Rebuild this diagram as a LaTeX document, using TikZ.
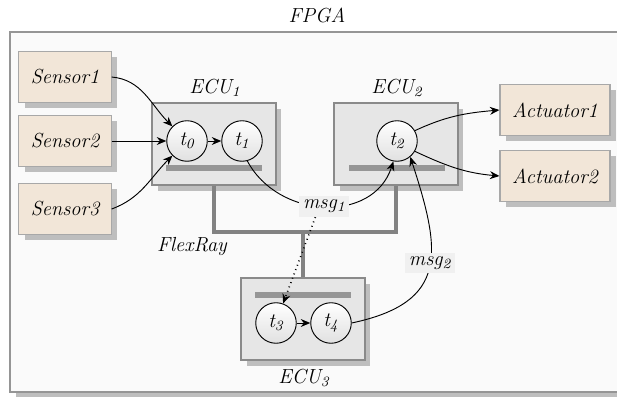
\documentclass[tikz,border=0pt]{standalone}
\usetikzlibrary{arrows.meta,shadows}
\definecolor{sensF}{HTML}{F2E6D8}
\definecolor{sensD}{HTML}{A8A8A8}
\definecolor{ecuF}{HTML}{E6E6E6}
\definecolor{ecuD}{HTML}{8A8A8A}
\definecolor{fpgaF}{HTML}{FAFAFA}
\definecolor{fpgaD}{HTML}{959595}
\definecolor{shadC}{HTML}{BEBEBE}
\definecolor{barC}{HTML}{969696}
\definecolor{busC}{HTML}{828282}
\definecolor{msgF}{HTML}{F0F0F0}
\newcommand\itf{\fontsize{11}{13}\selectfont\itshape}
\tikzset{
  shad/.style={drop shadow={shadow xshift=0.11cm, shadow yshift=-0.11cm, fill=shadC, opacity=1}},
  fpgabox/.style={draw=fpgaD, fill=fpgaF, line width=0.8pt, minimum width=11.67cm, minimum height=6.84cm, shad},
  sensbox/.style={draw=sensD, fill=sensF, line width=0.6pt, minimum width=1.75cm, minimum height=0.97cm,
                  font=\itf, shad},
  actbox/.style={sensbox, minimum width=2.09cm},
  ecubox/.style={draw=ecuD, fill=ecuF, line width=1pt, minimum width=2.34cm, minimum height=1.56cm, shad},
  task/.style={circle, draw=black, line width=0.5pt, top color=white, bottom color=black!12,
               minimum size=0.77cm, inner sep=0pt, font=\itf},
  bar/.style={fill=barC, minimum width=1.81cm, minimum height=0.13cm, inner sep=0pt},
  bus/.style={draw=busC, line width=1.8pt},
  arr/.style={-{Stealth[length=1.8mm,width=1.5mm]}, line width=0.5pt},
  msg/.style={fill=msgF, font=\itf, inner sep=2pt},
  lab/.style={font=\itf},
}

\begin{document}
\begin{tikzpicture}[x=0.019cm, y=-0.019cm]
\useasboundingbox (0,0) rectangle (617,397);
\node[fpgabox] (fpga) at (317,212) {};
\node[lab] (fpgalab) at (317,15) {FPGA};
% sensors and actuators
\node[sensbox] (s1) at (65,77) {Sensor1};
\node[sensbox] (s2) at (65,141) {Sensor2};
\node[sensbox] (s3) at (65,209) {Sensor3};
\node[actbox] (act1) at (555,110) {Actuator1};
\node[actbox] (act2) at (555,176) {Actuator2};
% bus
\coordinate (busL) at (0,232);
\node[lab] (flexray) at (192,247) {FlexRay};
% ECUs
\node[ecubox] (ecu1) at (214,144) {};
\node[ecubox] (ecu2) at (396,144) {};
\node[ecubox] (ecu3) at (303,319) {};
\draw[bus] (ecu1.south) -- (ecu1.south |- busL) -| (ecu2.south);
\draw[bus] (ecu3.north) -- (ecu3.north |- busL);
\node[lab] (ecu1lab) at (215,88) {ECU\textsubscript{1}};
\node[lab] (ecu2lab) at (397,88) {ECU\textsubscript{2}};
\node[lab] (ecu3lab) at (304,378) {ECU\textsubscript{3}};
\node[bar] (bar1) at (214,168) {};
\node[bar] (bar2) at (397,168) {};
\node[bar] (bar3) at (303,295) {};
% tasks
\node[task] (t0) at (187,141) {t\textsubscript{0}};
\node[task] (t1) at (242,141) {t\textsubscript{1}};
\node[task] (t2) at (397,141) {t\textsubscript{2}};
\node[task] (t3) at (276,323) {t\textsubscript{3}};
\node[task] (t4) at (331,323) {t\textsubscript{4}};
% edges
\draw[arr] (s1.east) to[out=-5,in=135] (t0.135);
\draw[arr] (s2.east) -- (t0.west);
\draw[arr] (s3.east) to[out=20,in=-135] (t0.-135);
\draw[arr] (t0) -- (t1);
\draw[arr] (t3) -- (t4);
\draw[arr] (t2.30) to[out=25,in=185] (act1.west);
\draw[arr] (t2.-30) to[out=-25,in=175] (act2.west);
\draw[arr] (t1.-75) to[out=-62,in=-108, looseness=1.15] node[msg, pos=0.5] (msg1) {msg\textsubscript{1}} (t2.-100);
\draw[arr, dotted, line width=0.9pt] ([xshift=-0.17cm]msg1.south) -- (t3.70);
\draw[arr] (t4.east) to[out=12,in=-72, looseness=1.45] node[msg, pos=0.53] (msg2) {msg\textsubscript{2}} (t2.-50);
\end{tikzpicture}
\end{document}
